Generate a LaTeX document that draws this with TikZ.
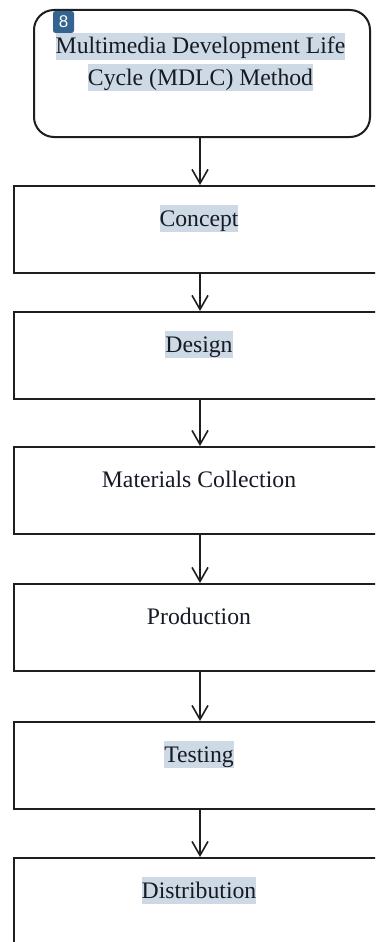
\documentclass[tikz,border=0pt]{standalone}
\usepackage{fontspec}
\setmainfont{Liberation Serif}
\newfontfamily\badgefont{Liberation Sans}
\usetikzlibrary{arrows.meta}
\definecolor{hlblue}{RGB}{205,218,229}
\definecolor{badgeblue}{RGB}{52,101,144}
\definecolor{ink}{RGB}{30,30,30}
\definecolor{txt}{RGB}{22,26,36}
\tikzset{
  stepbox/.style={draw=ink, line width=2pt, minimum width=372pt, minimum height=87pt, anchor=north west, inner sep=0pt},
  topbox/.style={draw=ink, line width=2pt, rounded corners=20pt, minimum width=336pt, minimum height=127pt, anchor=north west, inner sep=0pt},
  lbl/.style={text=txt, anchor=base, inner xsep=0pt, inner ysep=0pt, text height=21pt, text depth=5.7pt, font=\fontsize{23.7}{31}\selectfont},
  hl/.style={lbl, fill=hlblue},
  badge/.style={fill=badgeblue, rounded corners=2.5pt, minimum width=21pt, minimum height=22pt, inner sep=0pt, text=white, font=\badgefont\fontsize{17}{19}\selectfont},
  arr/.style={draw=ink, line width=1.6pt, -{Straight Barb[length=14pt, width=16pt, line width=1.6pt]}}
}
\begin{document}
\begin{tikzpicture}[x=1pt, y=-1pt]
\clip (0,0) rectangle (375,942);
\fill[white] (0,0) rectangle (375,942);
\node[topbox] (top) at (33,9) {};
\node[badge] (n8) at (63.5,22) {8};
\node[hl] (tl1) at (200.5,54) {Multimedia Development Life};
\node[hl] (tl2) at (200.5,85) {Cycle (MDLC) Method};

\node[stepbox] (b1) at (13,185) {};
\node[hl] (t1) at (199,226) {Concept};
\node[stepbox] (b2) at (13,311) {};
\node[hl] (t2) at (199,352) {Design};
\node[stepbox] (b3) at (13,446) {};
\node[lbl] (t3) at (199,487) {Materials Collection};
\node[stepbox] (b4) at (13,583) {};
\node[lbl] (t4) at (199,624) {Production};
\node[stepbox] (b5) at (13,721) {};
\node[hl] (t5) at (199,762) {Testing};
\node[stepbox] (b6) at (13,857) {};
\node[hl] (t6) at (199,898) {Distribution};

\draw[arr] (top.south -| b1.north) -- (b1.north);
\draw[arr] (b1.south) -- (b2.north);
\draw[arr] (b2.south) -- (b3.north);
\draw[arr] (b3.south) -- (b4.north);
\draw[arr] (b4.south) -- (b5.north);
\draw[arr] (b5.south) -- (b6.north);
\end{tikzpicture}
\end{document}
